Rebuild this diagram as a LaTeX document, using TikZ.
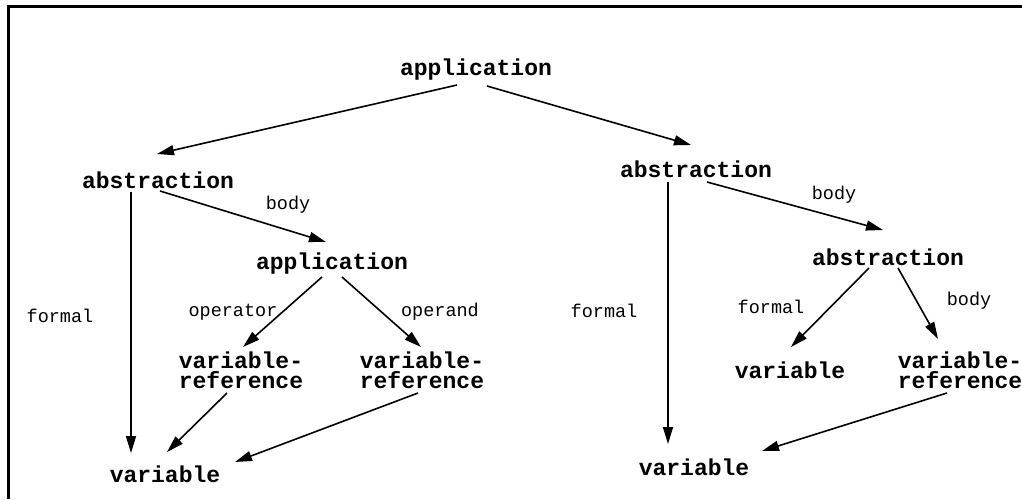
\documentclass[tikz,border=0pt]{standalone}
\usepackage{fontspec}
\newfontfamily\cour{Liberation Mono}
\usetikzlibrary{arrows.meta}
\begin{document}
\begin{tikzpicture}[x=1pt,y=-1pt,
  term/.style={inner sep=0pt,anchor=base,font={\cour\bfseries\fontsize{23}{20}\selectfont},align=center},
  lbl/.style={inner sep=0pt,anchor=base,font={\cour\fontsize{18.5}{20}\selectfont}},
  arr/.style={line width=1.6pt,-{Triangle[length=17pt,width=10pt]}},
  frame/.style={line width=3pt}]
\useasboundingbox (0,0) rectangle (1022,499);
\draw[frame] (8.5,499) -- (8.5,6) -- (1022,6);
% terms
\node[term] (app1) at (476,75) {application};
\node[term] (abs1) at (158,188) {abstraction};
\node[term] (abs2) at (696,177) {abstraction};
\node[term] (app2) at (332,269) {application};
\node[term] (abs3) at (888,265) {abstraction};
\node[term] (vr1) at (241,388) {variable-\\reference};
\node[term] (vr2) at (422,388) {variable-\\reference};
\node[term] (vr3) at (960,388) {variable-\\reference};
\node[term] (var1) at (165,482) {variable};
\node[term] (var2) at (790,378) {variable};
\node[term] (var3) at (694,475) {variable};
% labels
\node[lbl] (lb1) at (288,209) {body};
\node[lbl] (lb2) at (834,199) {body};
\node[lbl] (lf1) at (60,322) {formal};
\node[lbl] (lop) at (233,316) {operator};
\node[lbl] (lod) at (440,316) {operand};
\node[lbl] (lf2) at (604,317) {formal};
\node[lbl] (lf3) at (771,313) {formal};
\node[lbl] (lb3) at (969,305) {body};
% connectors
\draw[arr] ([shift={(-19,10)}]app1.base) -- ([shift={(-1,-34)}]abs1.base);
\draw[arr] ([shift={(11,11)}]app1.base) -- ([shift={(-5,-32)}]abs2.base);
\draw[arr] ([shift={(2,3)}]abs1.base) -- ([shift={(-6,-27)}]app2.base);
\draw[arr] ([shift={(-27,4)}]abs1.base) -- ([shift={(-34,-29)}]var1.base);
\draw[arr] ([shift={(11,5)}]abs2.base) -- ([shift={(-5,-35)}]abs3.base);
\draw[arr] ([shift={(-28,5)}]abs2.base) -- ([shift={(-26,-31)}]var3.base);
\draw[arr] ([shift={(-10,8)}]app2.base) -- ([shift={(2,-41)}]vr1.base);
\draw[arr] ([shift={(10,8)}]app2.base) -- ([shift={(-1,-41)}]vr2.base);
\draw[arr] ([shift={(-14,5)}]vr1.base) -- ([shift={(2,-30)}]var1.base);
\draw[arr] ([shift={(-4,5)}]vr2.base) -- ([shift={(70,-20)}]var1.base);
\draw[arr] ([shift={(-19,3)}]abs3.base) -- ([shift={(1,-31)}]var2.base);
\draw[arr] ([shift={(10,3)}]abs3.base) -- ([shift={(-22,-49)}]vr3.base);
\draw[arr] ([shift={(-13,5)}]vr3.base) -- ([shift={(68,-24)}]var3.base);
\end{tikzpicture}
\end{document}
